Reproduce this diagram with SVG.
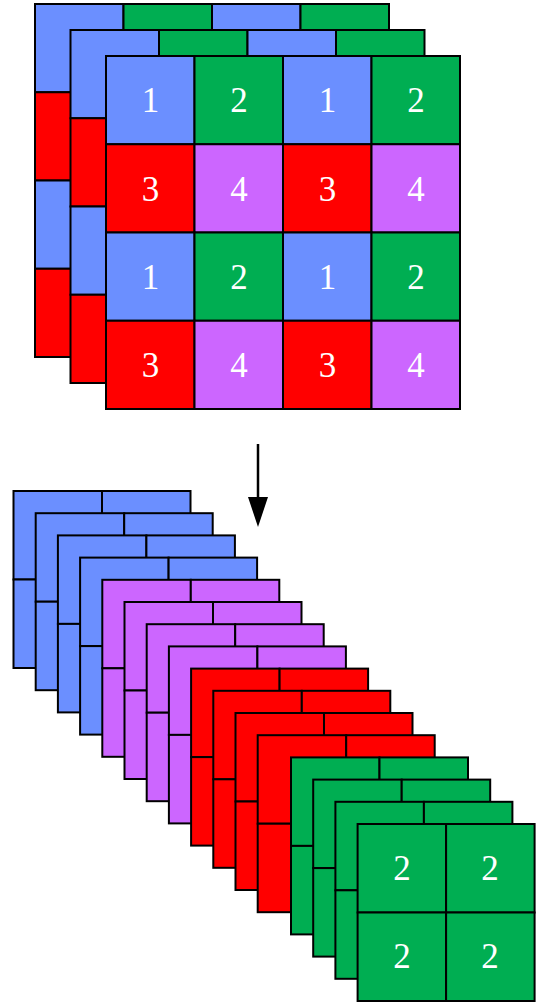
<svg xmlns="http://www.w3.org/2000/svg" xmlns:xlink="http://www.w3.org/1999/xlink" width="547" height="1002" viewBox="0 0 547 1002">
<style>
.b{fill:#6B8FFF}.g{fill:#00AE52}.r{fill:#FF0000}.p{fill:#CC66FF}
.cell{stroke:#000;stroke-width:2}
.num{font-family:"Liberation Serif","Times New Roman",serif;font-size:35px;fill:#fff;text-anchor:middle}
</style>
<defs>
<g id="grid4" class="cell">
<rect class="b" x="0" y="0" width="88.5" height="88.25"/><rect class="g" x="88.5" y="0" width="88.5" height="88.25"/><rect class="b" x="177" y="0" width="88.5" height="88.25"/><rect class="g" x="265.5" y="0" width="88.5" height="88.25"/>
<rect class="r" x="0" y="88.25" width="88.5" height="88.25"/><rect class="p" x="88.5" y="88.25" width="88.5" height="88.25"/><rect class="r" x="177" y="88.25" width="88.5" height="88.25"/><rect class="p" x="265.5" y="88.25" width="88.5" height="88.25"/>
<rect class="b" x="0" y="176.5" width="88.5" height="88.25"/><rect class="g" x="88.5" y="176.5" width="88.5" height="88.25"/><rect class="b" x="177" y="176.5" width="88.5" height="88.25"/><rect class="g" x="265.5" y="176.5" width="88.5" height="88.25"/>
<rect class="r" x="0" y="264.75" width="88.5" height="88.25"/><rect class="p" x="88.5" y="264.75" width="88.5" height="88.25"/><rect class="r" x="177" y="264.75" width="88.5" height="88.25"/><rect class="p" x="265.5" y="264.75" width="88.5" height="88.25"/>
</g>
<g id="grid2" stroke="#000" stroke-width="2">
<rect x="0" y="0" width="88.5" height="88.5"/><rect x="88.5" y="0" width="88.5" height="88.5"/>
<rect x="0" y="88.5" width="88.5" height="88.5"/><rect x="88.5" y="88.5" width="88.5" height="88.5"/>
</g>
<marker id="ah" viewBox="0 0 30 20" refX="0" refY="10" markerWidth="30" markerHeight="20" markerUnits="userSpaceOnUse" orient="auto">
<polygon points="0,0 30,10 0,20" fill="#000"/>
</marker>
</defs>
<rect width="547" height="1002" fill="#fff"/>

<g id="top-layer-1"><use xlink:href="#grid4" x="35" y="4"/></g>
<g id="top-layer-2"><use xlink:href="#grid4" x="70.5" y="30"/></g>
<g id="top-layer-3"><use xlink:href="#grid4" x="106" y="56"/>
<text class="num" x="150.5" y="112">1</text><text class="num" x="239" y="112">2</text><text class="num" x="327.5" y="112">1</text><text class="num" x="416" y="112">2</text>
<text class="num" x="150.5" y="200.5">3</text><text class="num" x="239" y="200.5">4</text><text class="num" x="327.5" y="200.5">3</text><text class="num" x="416" y="200.5">4</text>
<text class="num" x="150.5" y="288.5">1</text><text class="num" x="239" y="288.5">2</text><text class="num" x="327.5" y="288.5">1</text><text class="num" x="416" y="288.5">2</text>
<text class="num" x="150.5" y="377">3</text><text class="num" x="239" y="377">4</text><text class="num" x="327.5" y="377">3</text><text class="num" x="416" y="377">4</text>
</g>

<g id="connectors">
<line x1="258" y1="444" x2="258" y2="497" stroke="#000" stroke-width="2.5" marker-end="url(#ah)"/>
</g>

<g id="blue-1"><use xlink:href="#grid2" x="13.5" y="491" fill="#6B8FFF"/></g>
<g id="blue-2"><use xlink:href="#grid2" x="35.7" y="513.2" fill="#6B8FFF"/></g>
<g id="blue-3"><use xlink:href="#grid2" x="57.9" y="535.4" fill="#6B8FFF"/></g>
<g id="blue-4"><use xlink:href="#grid2" x="80.1" y="557.6" fill="#6B8FFF"/></g>
<g id="purple-1"><use xlink:href="#grid2" x="102.3" y="579.8" fill="#CC66FF"/></g>
<g id="purple-2"><use xlink:href="#grid2" x="124.5" y="602" fill="#CC66FF"/></g>
<g id="purple-3"><use xlink:href="#grid2" x="146.7" y="624.2" fill="#CC66FF"/></g>
<g id="purple-4"><use xlink:href="#grid2" x="168.9" y="646.4" fill="#CC66FF"/></g>
<g id="red-1"><use xlink:href="#grid2" x="191.1" y="668.6" fill="#FF0000"/></g>
<g id="red-2"><use xlink:href="#grid2" x="213.3" y="690.8" fill="#FF0000"/></g>
<g id="red-3"><use xlink:href="#grid2" x="235.5" y="713" fill="#FF0000"/></g>
<g id="red-4"><use xlink:href="#grid2" x="257.7" y="735.2" fill="#FF0000"/></g>
<g id="green-1"><use xlink:href="#grid2" x="291" y="757.4" fill="#00AE52"/></g>
<g id="green-2"><use xlink:href="#grid2" x="313.2" y="779.6" fill="#00AE52"/></g>
<g id="green-3"><use xlink:href="#grid2" x="335.4" y="801.8" fill="#00AE52"/></g>
<g id="green-4"><use xlink:href="#grid2" x="357.6" y="824" fill="#00AE52"/>
<text class="num" x="402" y="880">2</text><text class="num" x="490" y="880">2</text>
<text class="num" x="402" y="968">2</text><text class="num" x="490" y="968">2</text>
</g>
</svg>
